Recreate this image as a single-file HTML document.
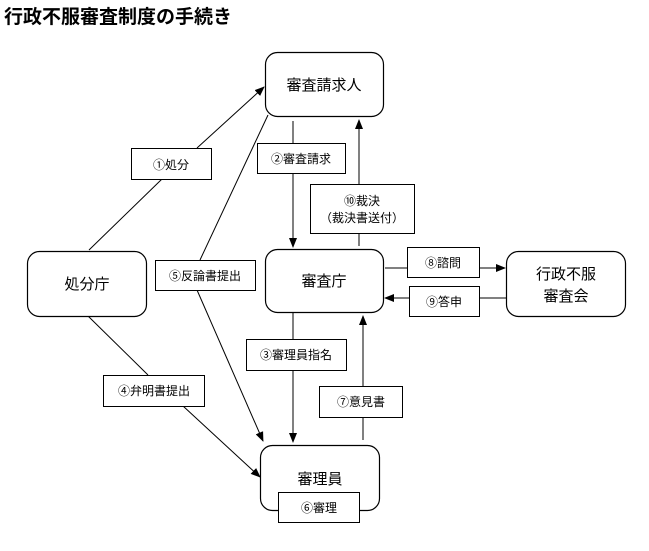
<!DOCTYPE html>
<html><head><meta charset="utf-8"><style>
html,body{margin:0;padding:0;background:#fff;width:649px;height:551px;overflow:hidden}
svg text{font-family:"Liberation Sans","Noto Sans CJK JP",sans-serif;fill:#000}
</style></head><body>
<svg width="649" height="551" viewBox="0 0 649 551" xmlns="http://www.w3.org/2000/svg">
<defs><marker id="a" markerWidth="10" markerHeight="10" refX="9" refY="5" orient="auto" markerUnits="userSpaceOnUse"><path d="M0,1 L10,5 L0,9 z" fill="#000"/></marker></defs>
<text x="4" y="23" font-size="19" font-weight="bold">行政不服審査制度の手続き</text>
<g stroke="#000" stroke-width="1" fill="none">
<line x1="89" y1="250" x2="162" y2="179"/>
<line x1="197" y1="148" x2="264" y2="87" marker-end="url(#a)"/>
<line x1="268" y1="115" x2="200" y2="260"/>
<line x1="197" y1="290" x2="263" y2="441" marker-end="url(#a)"/>
<line x1="293" y1="121" x2="293" y2="143"/>
<line x1="293" y1="173" x2="293" y2="247" marker-end="url(#a)"/>
<line x1="359" y1="246" x2="359" y2="233"/>
<line x1="359" y1="184" x2="359" y2="120" marker-end="url(#a)"/>
<line x1="385" y1="268" x2="407" y2="268"/>
<line x1="479" y1="268" x2="505" y2="268" marker-end="url(#a)"/>
<line x1="506" y1="298" x2="479" y2="298"/>
<line x1="409" y1="298" x2="385" y2="298" marker-end="url(#a)"/>
<line x1="293" y1="313" x2="293" y2="339"/>
<line x1="293" y1="370" x2="293" y2="442" marker-end="url(#a)"/>
<line x1="363" y1="440" x2="363" y2="417"/>
<line x1="363" y1="386" x2="363" y2="316" marker-end="url(#a)"/>
<line x1="88" y1="316" x2="148" y2="375"/>
<line x1="183" y1="406" x2="260" y2="477" marker-end="url(#a)"/>
</g>
<g stroke="#000" stroke-width="1.2" fill="#fff">
<rect x="265.5" y="52.5" width="118" height="64" rx="12"/>
<rect x="27.5" y="251.5" width="119" height="65" rx="12"/>
<rect x="265.5" y="249.5" width="118" height="63" rx="12"/>
<rect x="506.5" y="251.5" width="119" height="65" rx="12"/>
<rect x="260.5" y="445.5" width="119" height="65" rx="12"/>
</g>
<g stroke="#000" stroke-width="1" fill="#fff">
<rect x="131.5" y="148.5" width="80" height="31"/>
<rect x="257.5" y="143.5" width="88" height="30"/>
<rect x="310.5" y="184.5" width="104" height="49"/>
<rect x="155.5" y="260.5" width="100" height="30"/>
<rect x="407.5" y="247.5" width="72" height="30"/>
<rect x="409.5" y="286.5" width="70" height="30"/>
<rect x="246.5" y="339.5" width="100" height="31"/>
<rect x="103.5" y="375.5" width="101" height="31"/>
<rect x="319.5" y="386.5" width="83" height="31"/>
<rect x="278.5" y="492.5" width="81" height="30"/>
</g>
<g font-size="15" text-anchor="middle">
<text x="324" y="90">審査請求人</text>
<text x="87" y="289">処分庁</text>
<text x="324" y="286">審査庁</text>
<text x="566" y="279">行政不服</text>
<text x="566" y="301">審査会</text>
<text x="320" y="484">審理員</text>
</g>
<g font-size="12" text-anchor="middle">
<text x="171" y="169">①処分</text>
<text x="301" y="163">②審査請求</text>
<text x="362" y="205">⑩裁決</text>
<text x="362" y="222">（裁決書送付）</text>
<text x="205" y="280">⑤反論書提出</text>
<text x="443" y="267">⑧諮問</text>
<text x="444" y="306">⑨答申</text>
<text x="296" y="359">③審理員指名</text>
<text x="154" y="395">④弁明書提出</text>
<text x="361" y="406">⑦意見書</text>
<text x="319" y="512">⑥審理</text>
</g>
</svg>
</body></html>
